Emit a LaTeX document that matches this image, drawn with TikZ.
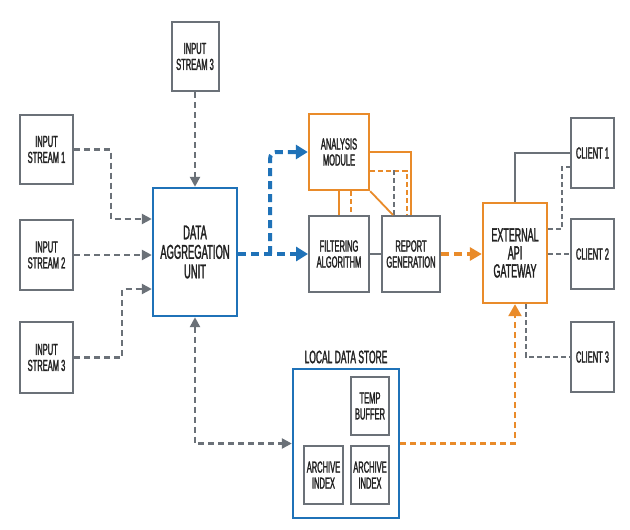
\documentclass[tikz,border=0pt]{standalone}
\usepackage{fontspec}
\setmainfont{Liberation Sans}[FakeStretch=0.47,FakeBold=1.5]
\usetikzlibrary{arrows.meta,calc}
\definecolor{gline}{HTML}{6B7178}
\definecolor{bline}{HTML}{1F72B8}
\definecolor{oline}{HTML}{E98B2A}
\definecolor{txt}{HTML}{222222}
\tikzset{
  box/.style={draw=gline, line width=2pt, fill=white, text=txt, align=center, inner sep=0pt},
  bbox/.style={box, draw=bline, line width=2.4pt},
  obox/.style={box, draw=oline, line width=2.4pt},
  small/.style={font=\fontsize{16}{16}\selectfont},
  big/.style={font=\fontsize{20}{19.5}\selectfont},
  gdash/.style={draw=gline, line width=2.4pt, dash pattern=on 6pt off 4pt},
  gthin/.style={draw=gline, line width=1.6pt, dash pattern=on 5pt off 3pt},
  gsolid/.style={draw=gline, line width=1.6pt},
  gtip/.style={-{Triangle[length=10pt,width=10pt]}},
  bdash/.style={draw=bline, line width=4pt, dash pattern=on 8pt off 5pt},
  btip/.style={-{Triangle[length=12pt,width=14pt]}},
  odash/.style={draw=oline, line width=2.4pt, dash pattern=on 6pt off 4pt},
  othick/.style={draw=oline, line width=4pt, dash pattern=on 8pt off 5pt},
  otip/.style={-{Triangle[length=12pt,width=13pt]}},
  osolid/.style={draw=oline, line width=1.8pt},
  othin/.style={draw=oline, line width=1.8pt, dash pattern=on 5pt off 3pt},
}
\begin{document}
\begin{tikzpicture}[x=1pt,y=-1pt,small]
\useasboundingbox (0,0) rectangle (630,530);
\fill[white] (0,0) rectangle (630,530);

% input streams
\node[box, minimum width=47pt, minimum height=69pt] (is3t) at (195,56.5) {INPUT\\STREAM 3};
\node[box, minimum width=53pt, minimum height=69pt] (is1) at (46.5,149.5) {INPUT\\STREAM 1};
\node[box, minimum width=53pt, minimum height=70pt] (is2) at (46.5,255) {INPUT\\STREAM 2};
\node[box, minimum width=53pt, minimum height=71pt] (is3) at (46.5,357.5) {INPUT\\STREAM 3};

% aggregation
\node[bbox, big, minimum width=84pt, minimum height=128pt] (dau) at (195,252) {DATA\\AGGREGATION\\UNIT};

% processing
\node[obox, minimum width=60pt, minimum height=76pt] (am) at (339,152) {ANALYSIS\\MODULE};
\node[box, minimum width=60pt, minimum height=76pt] (fa) at (339,254) {FILTERING\\ALGORITHM};
\node[box, minimum width=58pt, minimum height=76pt] (rg) at (411,254) {REPORT\\GENERATION};
\node[obox, font=\fontsize{19}{18}\selectfont, minimum width=64pt, minimum height=100pt] (gw) at (515,253) {EXTERNAL\\API\\GATEWAY};

% clients
\node[box, minimum width=43pt, minimum height=70pt] (c1) at (592.5,153) {CLIENT 1};
\node[box, minimum width=43pt, minimum height=70pt] (c2) at (592.5,254) {CLIENT 2};
\node[box, minimum width=43pt, minimum height=70pt] (c3) at (592.5,357) {CLIENT 3};

% local data store
\node[bbox, fill=none, minimum width=106pt, minimum height=149pt] (lds) at (346,443.5) {};
\node[text=txt, font=\fontsize{18}{18}\selectfont, inner sep=0pt] (ldsl) at (346,357) {LOCAL DATA STORE};
\node[box, minimum width=38pt, minimum height=58pt] (tb) at (370,406) {TEMP\\BUFFER};
\node[box, minimum width=39pt, minimum height=58pt] (ai1) at (323.5,475) {ARCHIVE\\INDEX};
\node[box, minimum width=38pt, minimum height=58pt] (ai2) at (370,475) {ARCHIVE\\INDEX};

% input connectors
\draw[gdash,gtip] (is3t.south) -- (dau.north);
\draw[gdash,gtip] (is1.east) -- ++(37,0) |- ($(dau.west)+(0,-33)$);
\draw[gdash,gtip] (is2.east) -- (dau.west |- is2.east);
\draw[gdash,gtip] (is3.east) -- ++(48,0) |- ($(dau.west)+(0,37)$);
\draw[gdash,{Triangle[length=10pt,width=10pt]}-{Triangle[length=10pt,width=10pt]}] (dau.south) |- (lds.west);

% blue outputs
\draw[bdash,btip] (dau.east |- fa.west) -- (fa.west);
\draw[bdash,btip,rounded corners=6pt] ($(dau.east |- fa.west)+(32,0)$) |- (am.west);

% analysis <-> others
\draw[osolid] (am.south) -- (fa.north);
\draw[othin] ($(am.south)+(12,0)$) -- ($(fa.north)+(12,0)$);
\draw[osolid] (am.east) -| (rg.north);
\draw[othin] ($(am.east)+(0,19)$) -| ($(rg.north)+(-4,0)$);
\draw[gthin] ($(rg.north west)+(13,-45)$) -- ($(rg.north west)+(13,0)$);
\draw[osolid] (am.south east) -- ($(rg.north west)+(12,0)$);
\draw[gsolid] (fa.east) -- (rg.west);

% report -> gateway
\draw[othick,otip] (rg.east) -- (gw.west |- rg.east);

% store -> gateway
\draw[odash,otip] (lds.east) -| (gw.south);

% gateway -> clients
\draw[gsolid] (gw.north) |- (c1.west);
\draw[gthin] ($(gw.east)+(0,-24)$) -- ++(14,0) |- ($(c1.west)+(0,14)$);
\draw[gthin] (gw.east |- c2.west) -- (c2.west);
\draw[gthin] ($(gw.south)+(11,0)$) |- (c3.west);
\end{tikzpicture}
\end{document}
